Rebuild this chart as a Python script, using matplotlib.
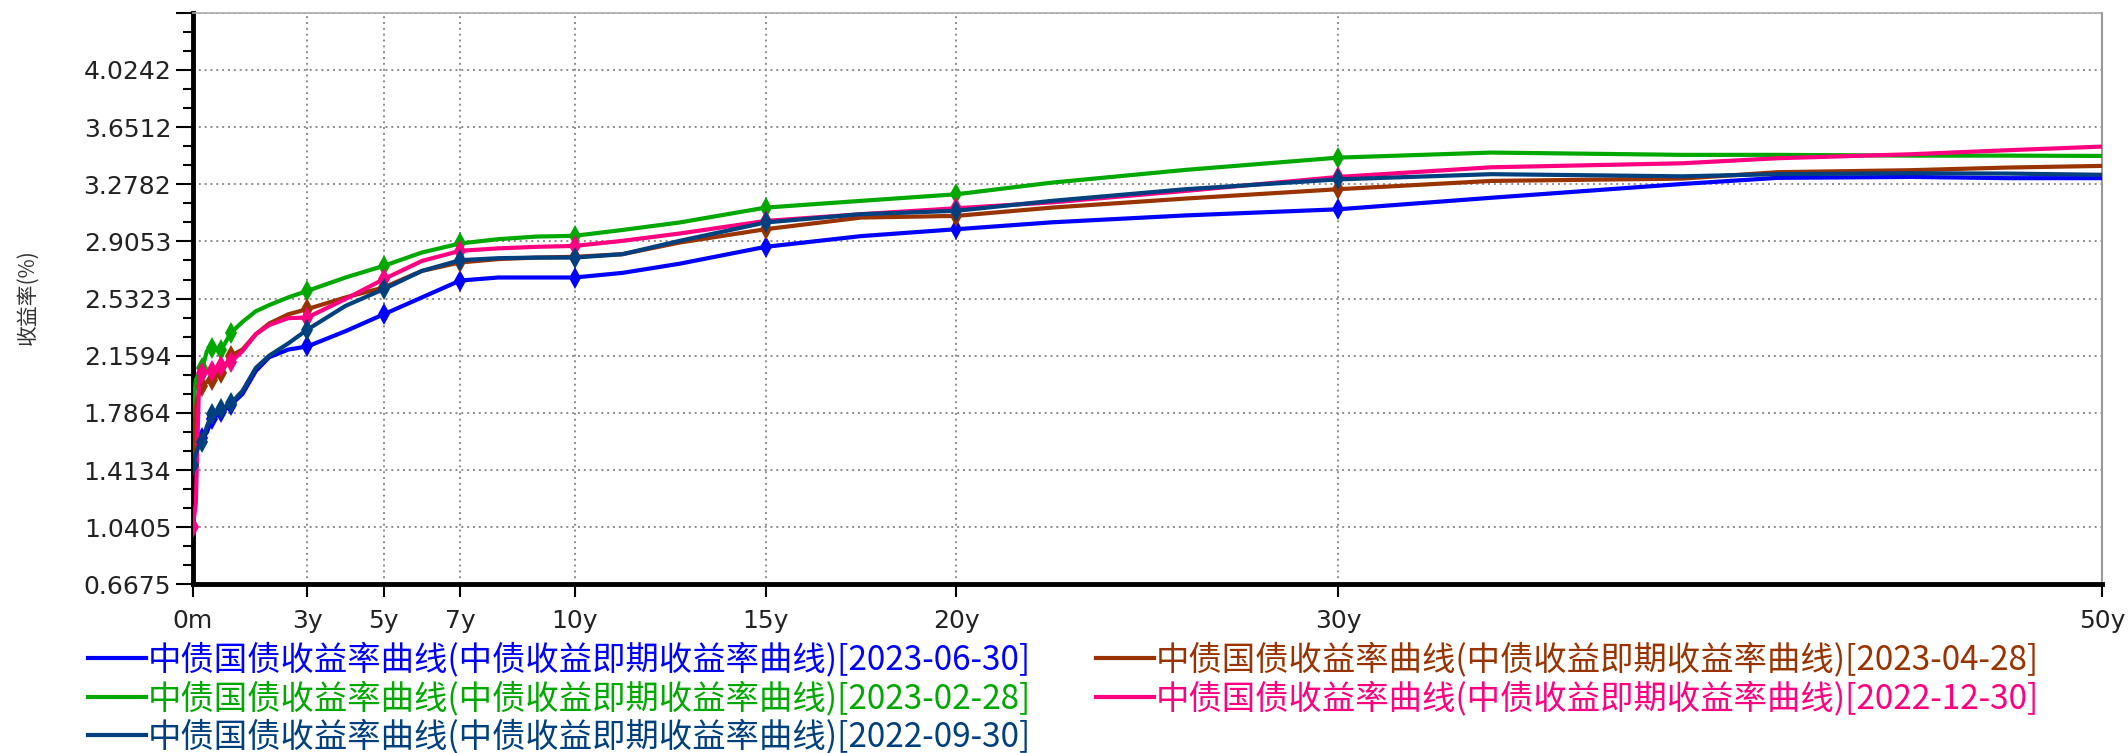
import numpy as np
import matplotlib.pyplot as plt
from matplotlib.lines import Line2D

plt.rcParams['font.family'] = ['Noto Sans CJK SC', 'DejaVu Sans']

# 期限(年)
tenors = [0, 0.08, 0.17, 0.25, 0.37, 0.5, 0.75, 1, 1.3, 1.65, 2, 2.5, 3, 4, 5, 6, 7, 8, 9, 10,
          11.25, 12.75, 15, 17.5, 20, 22.5, 26, 30, 34, 39, 41.5, 45, 47.5, 50]
marker_tenors = [0, 0.25, 0.5, 0.75, 1, 3, 5, 7, 10, 15, 20, 30]

y_20230630 = [1.47, 1.55, 1.58, 1.62, 1.66, 1.75, 1.79, 1.84, 1.91, 2.06, 2.15, 2.20, 2.22, 2.32,
              2.43, 2.54, 2.65, 2.67, 2.67, 2.67, 2.70, 2.76, 2.87, 2.94, 2.985, 3.03, 3.075,
              3.115, 3.19, 3.28, 3.32, 3.326, 3.318, 3.318]
y_20230428 = [1.45, 1.82, 1.93, 1.96, 1.99, 2.00, 2.05, 2.16, 2.20, 2.30, 2.37, 2.43, 2.464, 2.54,
              2.605, 2.713, 2.768, 2.79, 2.80, 2.805, 2.822, 2.898, 2.985, 3.061, 3.072, 3.126,
              3.185, 3.246, 3.30, 3.315, 3.357, 3.37, 3.387, 3.398]
y_20230228 = [1.82, 2.00, 2.05, 2.08, 2.19, 2.21, 2.20, 2.31, 2.38, 2.45, 2.49, 2.54, 2.583, 2.67,
              2.746, 2.833, 2.892, 2.92, 2.937, 2.942, 2.98, 3.029, 3.126, 3.17, 3.213, 3.289,
              3.372, 3.452, 3.485, 3.470, 3.470, 3.465, 3.465, 3.463]
y_20221230 = [1.04, 1.20, 2.05, 2.05, 2.055, 2.061, 2.09, 2.12, 2.19, 2.30, 2.36, 2.405, 2.409, 2.53,
              2.659, 2.778, 2.844, 2.86, 2.87, 2.876, 2.909, 2.957, 3.039, 3.083, 3.122, 3.16,
              3.235, 3.326, 3.389, 3.415, 3.448, 3.474, 3.50, 3.524]
y_20220930 = [1.45, 1.52, 1.58, 1.60, 1.70, 1.78, 1.81, 1.85, 1.93, 2.08, 2.16, 2.24, 2.33, 2.485,
              2.594, 2.713, 2.783, 2.796, 2.80, 2.80, 2.822, 2.909, 3.029, 3.083, 3.105, 3.17,
              3.246, 3.31, 3.344, 3.33, 3.344, 3.35, 3.348, 3.34]

dates = ['2023-06-30', '2023-04-28', '2023-02-28', '2022-12-30', '2022-09-30']
series = [y_20230630, y_20230428, y_20230228, y_20221230, y_20220930]
colors = ['#0000FF', '#993300', '#00A800', '#FF0080', '#00407F']
zorders = [3, 5, 4, 6, 7]
curve_name = '中债国债收益率曲线(中债收益即期收益率曲线)'

xticks = [0, 3, 5, 7, 10, 15, 20, 30, 50]
xtick_labels = ['0m', '3y', '5y', '7y', '10y', '15y', '20y', '30y', '50y']
ytick_labels = ['0.6675', '1.0405', '1.4134', '1.7864', '2.1594', '2.5323',
                '2.9053', '3.2782', '3.6512', '4.0242']
y_top = 4.3972

fig = plt.figure(figsize=(21.28, 7.53), dpi=100)
ax = fig.add_axes([0.0906, 0.2238, 0.8972, 0.7593])

t = np.array(tenors)
mask = np.isin(t, marker_tenors)
for ys, c, z in zip(series, colors, zorders):
    ax.plot(t, ys, color=c, lw=3, zorder=z, marker='d', markersize=11,
            markevery=list(mask), markeredgewidth=0)

ax.set_xlim(0, 50)
ax.set_ylim(float(ytick_labels[0]), y_top)

ax.set_xticks(xticks)
ax.set_xticklabels(xtick_labels, fontfamily='DejaVu Sans', fontsize=18, color='#222222')

yt = [float(s) for s in ytick_labels]
ax.set_yticks(yt + [y_top])
ax.set_yticklabels(ytick_labels + [''], fontfamily='DejaVu Sans', fontsize=18, color='#222222')
allt = yt + [y_top]
minor = []
for a, b in zip(allt[:-1], allt[1:]):
    minor += [a + (b - a) / 3, a + 2 * (b - a) / 3]
ax.set_yticks(minor, minor=True)

ax.tick_params(axis='y', which='major', length=12.5, width=1.5, pad=3)
ax.tick_params(axis='y', which='minor', length=7, width=1.5)
ax.tick_params(axis='x', which='major', length=9.5, width=1.5, pad=8)

ax.grid(True, which='major', color='#8c8c8c', linestyle=(0, (1, 2)), linewidth=1.4)

ax.spines['left'].set_linewidth(3.5)
ax.spines['bottom'].set_linewidth(3.5)
ax.spines['right'].set_color('#999999')
ax.spines['right'].set_linewidth(1.5)
ax.spines['top'].set_color('#aaaaaa')
ax.spines['top'].set_linewidth(1.2)

fig.text(28 / 2128, 1 - 297 / 753, '收益率(%)', rotation=90, ha='center', va='center',
         fontsize=15, color='#333333')

# 图例(两列)
W, H = 2128, 753
legend_pos = [(88, 658), (1096, 658), (88, 697), (1096, 697), (88, 735)]
for (px, py), d, c in zip(legend_pos, dates, colors):
    fig.add_artist(Line2D([px / W, (px + 58) / W], [1 - py / H, 1 - py / H],
                          color=c, lw=3, transform=fig.transFigure))
    fig.text((px + 60) / W, 1 - (py + 2) / H, curve_name + '[' + d + ']', color=c,
             fontsize=24, ha='left', va='center')

fig.savefig('out.png', dpi=100)
